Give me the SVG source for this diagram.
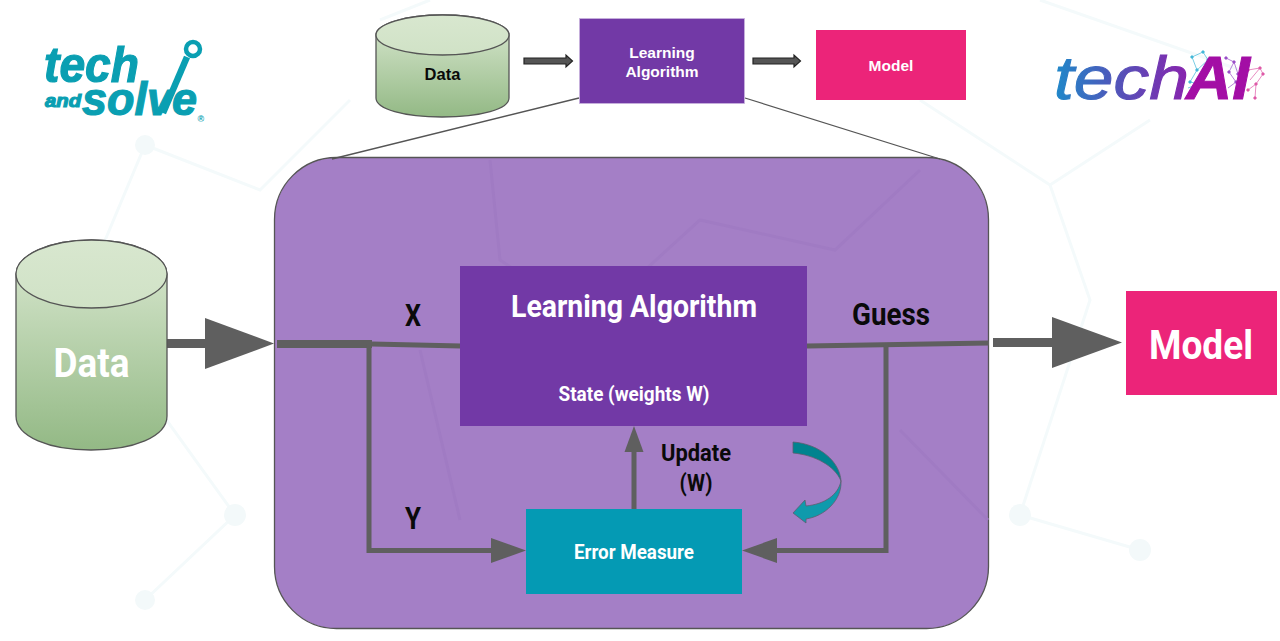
<svg xmlns="http://www.w3.org/2000/svg" width="1280" height="641" viewBox="0 0 1280 641">
<defs>
<linearGradient id="cyl" x1="0" y1="0" x2="0" y2="1"><stop offset="0" stop-color="#dbe9d2"/><stop offset="1" stop-color="#93b985"/></linearGradient>
<linearGradient id="cap" x1="0" y1="0" x2="0" y2="1"><stop offset="0" stop-color="#d8e7cf"/><stop offset="1" stop-color="#d0e2c6"/></linearGradient>
<linearGradient id="ta" gradientUnits="userSpaceOnUse" x1="1055" y1="0" x2="1190" y2="0"><stop offset="0" stop-color="#1f88c9"/><stop offset="0.5" stop-color="#5650b8"/><stop offset="1" stop-color="#8a22ad"/></linearGradient>
</defs>
<style>
.t{font-family:Roboto,"Liberation Sans",sans-serif;font-weight:700;text-anchor:middle}
.a{font-family:"Liberation Sans",Arial,sans-serif;font-weight:700;text-anchor:middle}
.w{fill:#fff}.k{fill:#0a0a0a}
.line{fill:none;stroke:#5f5f5f;stroke-width:5}
.head{fill:#5f5f5f}
.zoom{fill:none;stroke:#555;stroke-width:1.300}
.cy{fill:url(#cyl);stroke:#555;stroke-width:1.300}
.top{fill:url(#cap);stroke:#555;stroke-width:1.300}
.bg{fill:none;stroke:#f4fafb;stroke-width:3}
.bgd{fill:#f3f9fa}
.small{fill:#555;stroke:#222;stroke-width:1.200}
.logo{font-family:"Liberation Sans",Arial,sans-serif;font-weight:700;font-style:italic}
</style>
<rect width="1280" height="641" fill="#fff"/>
<g id="background">
<path class="bg" d="M145 145 L260 190 L350 100 M145 145 L80 300 L235 515 L145 600 M1050 185 L1090 300 L1020 515 M1140 550 L1020 515 M380 20 L430 0 M920 100 L1050 185 L1150 120 M1040 0 L1240 70"/>
<circle class="bgd" cx="145" cy="145" r="10"/><circle class="bgd" cx="235" cy="515" r="11"/><circle class="bgd" cx="1020" cy="515" r="11"/><circle class="bgd" cx="1140" cy="550" r="11"/><circle class="bgd" cx="145" cy="600" r="10"/>
</g>
<g id="zoom-frame">
<rect x="274.500" y="157.500" width="714" height="471" rx="62" ry="62" fill="#a47fc6" stroke="#555" stroke-width="1.300"/>
<path d="M490 160 L500 260 L590 320 L700 220 L835 250 L920 170 M420 350 L460 520 M900 430 L988 520" fill="none" stroke="#a07bc3" stroke-width="3"/>
<path class="zoom" d="M579 98 L332 159 M745 98 L940 159"/>
</g>
<g id="connectors">
<path d="M524 58 H566 V55 L572.500 61 L566 67 V64 H524 Z" class="small"/>
<path d="M753 58 H794 V55 L800.500 61 L794 67 V64 H753 Z" class="small"/>
<path d="M167 343.500 H206" stroke="#5f5f5f" stroke-width="9" fill="none"/>
<path class="head" d="M205 318 L274 343.500 L205 369 Z"/>
<path d="M277 344 H372" stroke="#5f5f5f" stroke-width="8" fill="none"/>
<path class="line" d="M372 344 L461 346"/>
<path class="line" d="M369 344 V550.500 H495"/>
<path class="head" d="M491 538 L526 550.500 L491 563 Z"/>
<path class="line" d="M807 346 L989 343"/>
<path class="line" d="M886 345 V550.500 H775"/>
<path class="head" d="M777 538 L742 550.500 L777 563 Z"/>
<path d="M993 342.500 H1055" stroke="#5f5f5f" stroke-width="9" fill="none"/>
<path class="head" d="M1052 317 L1122 342.500 L1052 368 Z"/>
<path class="line" d="M634 509 V450"/>
<path class="head" d="M624.500 452 L634 426 L643.500 452 Z"/>
</g>
<g id="curved-arrow">
<path d="M793 442 C820 444 840 462 841 481 C835 466 815 455 793 453 Z" fill="#00838f" stroke="#5e5e70" stroke-width=".8"/>
<path d="M841 481 C842 500 825 516 806 519 L806 523 L793 513 L805 500 L806 506 C825 504 838 495 841 481 Z" fill="#0f9aac" stroke="#5e5e70" stroke-width=".8"/>
</g>
<g id="data-top">
<path class="cy" d="M376 35 A66.500 20 0 0 1 509 35 V98 C509 109 481 117 442 117 C404 117 376 109 376 98 Z"/>
<ellipse class="top" cx="442.500" cy="35" rx="66.500" ry="20"/>
<text class="a k" x="442.500" y="79.500" font-size="16.500">Data</text>
</g>
<g id="learning-top">
<rect x="579.500" y="18.500" width="165" height="85" fill="#7239a6" stroke="#c9b3de" stroke-width=".8"/>
<text class="a w" x="662" y="58" font-size="15.500">Learning</text>
<text class="a w" x="662" y="76.500" font-size="15.500">Algorithm</text>
</g>
<g id="model-top">
<rect x="816" y="30" width="150" height="70" fill="#ec2479"/>
<text class="a w" x="891" y="70.500" font-size="15.500">Model</text>
</g>
<g id="data-main">
<path class="cy" d="M16 274 A75.500 34 0 0 1 167 274 V416 C167 437 133 450 91 450 C50 450 16 437 16 416 Z"/>
<ellipse class="top" cx="91.500" cy="274" rx="75.500" ry="34"/>
<text class="t w" x="91.500" y="377" font-size="41" textLength="76" lengthAdjust="spacingAndGlyphs">Data</text>
</g>
<g id="learning-main">
<rect x="460" y="266" width="347" height="160" fill="#7239a6"/>
<text class="t w" x="634" y="317" font-size="32" textLength="246" lengthAdjust="spacingAndGlyphs">Learning Algorithm</text>
<text class="t w" x="634" y="401" font-size="20.500" textLength="151" lengthAdjust="spacingAndGlyphs">State (weights W)</text>
</g>
<g id="error-measure">
<rect x="526" y="509" width="216" height="85" fill="#049ab4"/>
<text class="t w" x="634" y="559" font-size="21" textLength="120" lengthAdjust="spacingAndGlyphs">Error Measure</text>
</g>
<g id="model-main">
<rect x="1126" y="291" width="151" height="104" fill="#ec2479"/>
<text class="t w" x="1201" y="359" font-size="41" textLength="104" lengthAdjust="spacingAndGlyphs">Model</text>
</g>
<g id="labels">
<text class="t k" x="413" y="326" font-size="31" textLength="16" lengthAdjust="spacingAndGlyphs">X</text>
<text class="t k" x="413" y="529" font-size="31" textLength="16" lengthAdjust="spacingAndGlyphs">Y</text>
<text class="t k" x="891" y="325" font-size="31" textLength="78" lengthAdjust="spacingAndGlyphs">Guess</text>
<text class="t k" x="696" y="461" font-size="24" textLength="70" lengthAdjust="spacingAndGlyphs">Update</text>
<text class="t k" x="696" y="491" font-size="24" textLength="33" lengthAdjust="spacingAndGlyphs">(W)</text>
</g>
<g id="logo-techandsolve">
<path d="M163 113 L187 57" stroke="#0a9fb2" stroke-width="6.500" fill="none"/>
<circle cx="193" cy="49" r="7" fill="none" stroke="#0a9fb2" stroke-width="4.500"/>
<text class="logo" fill="#0a9fb2" stroke="#0a9fb2" stroke-width="1.200"><tspan x="44" y="82" font-size="50" textLength="95" lengthAdjust="spacingAndGlyphs">tech</tspan><tspan x="45" y="107" font-size="19" textLength="36" lengthAdjust="spacingAndGlyphs">and</tspan><tspan x="82" y="115" font-size="46" textLength="115" lengthAdjust="spacingAndGlyphs">solve</tspan></text>
<text x="197.500" y="122" font-family="Liberation Sans,sans-serif" font-size="9" font-weight="700" fill="#0a9fb2">®</text>
</g>
<g id="logo-techai">
<g stroke="#42b8d8" stroke-width=".7" fill="#42b8d8"><path d="M1192 57 L1203 52 L1208 60 L1197 70 L1190 82 L1200 84 M1208 60 L1199 84 L1188 88 M1192 57 L1197 70" fill="none"/><circle cx="1192" cy="57" r="1.300"/><circle cx="1203" cy="52" r="1.300"/><circle cx="1208" cy="60" r="1.300"/><circle cx="1197" cy="70" r="1.300"/><circle cx="1190" cy="82" r="1.300"/><circle cx="1199" cy="84" r="1.300"/></g>
<g stroke="#9a4fc8" stroke-width=".7" fill="#9a4fc8"><path d="M1226 58 L1234 62 L1229 72 L1236 82 L1228 88 M1234 62 L1238 74" fill="none"/><circle cx="1226" cy="58" r="1.300"/><circle cx="1234" cy="62" r="1.300"/><circle cx="1229" cy="72" r="1.300"/><circle cx="1236" cy="82" r="1.300"/><circle cx="1238" cy="74" r="1.300"/></g>
<g stroke="#de5aa8" stroke-width=".7" fill="#de5aa8"><path d="M1248 70 L1260 68 L1263 74 L1256 84 L1255 98 M1248 90 L1256 84 M1260 68 L1250 80" fill="none"/><circle cx="1248" cy="70" r="1.300"/><circle cx="1260" cy="68" r="1.300"/><circle cx="1263" cy="74" r="1.300"/><circle cx="1256" cy="84" r="1.300"/><circle cx="1255" cy="98" r="1.300"/><circle cx="1248" cy="90" r="1.300"/></g>
<text class="logo" x="1054" y="99" font-size="61" fill="url(#ta)" stroke="url(#ta)" stroke-width="1" textLength="135" lengthAdjust="spacingAndGlyphs" style="font-weight:400">tech</text>
<text class="logo" x="1186" y="99" font-size="61" fill="#a30ea5" stroke="#a30ea5" stroke-width="1" textLength="64" lengthAdjust="spacingAndGlyphs">AI</text>
</g>
</svg>
